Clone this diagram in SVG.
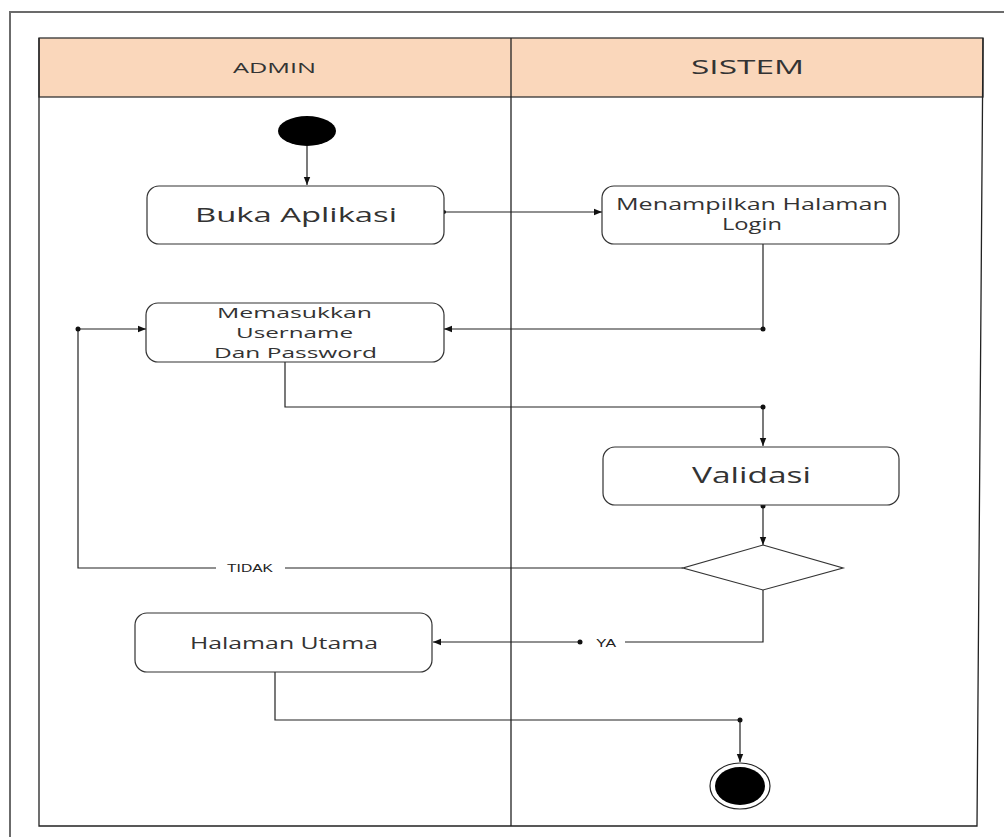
<svg xmlns="http://www.w3.org/2000/svg" width="1004" height="837" viewBox="0 0 1004 837">
  <style>
    .frame { fill: none; stroke: #6b6b6b; stroke-width: 2; }
    .lane { fill: none; stroke: #222; stroke-width: 1.3; }
    .head { fill: #fad7bb; stroke: #333; stroke-width: 1.3; }
    .box { fill: #fff; stroke: #333; stroke-width: 1.2; }
    .flow { fill: none; stroke: #222; stroke-width: 1.2; }
    .dot { fill: #111; }
    .lbl { font-family: "Open Sans", "DejaVu Sans", sans-serif; fill: #333; text-anchor: start; }
    .guard { font-family: "Liberation Sans", Arial, sans-serif; fill: #222; font-size: 10px; }
  </style>
  <defs>
    <marker id="arr" viewBox="0 0 10 10" refX="10" refY="5" markerWidth="8" markerHeight="8" markerUnits="userSpaceOnUse" orient="auto">
      <path d="M0,1 L10,5 L0,9 z" fill="#111"/>
    </marker>
  </defs>

  <!-- page frame -->
  <path class="frame" d="M10,837 V12 H1004"/>

  <!-- swimlanes -->
  <g id="lanes">
    <rect class="head" x="39" y="38" width="944" height="59"/>
    <path class="lane" d="M39,38 V826 H977 L983,38"/>
    <line class="lane" x1="511" y1="38" x2="511" y2="826"/>
    <text class="lbl" x="233" y="73" font-size="15" textLength="83" lengthAdjust="spacingAndGlyphs" fill="#111">ADMIN</text>
    <text class="lbl" x="691" y="74" font-size="20" textLength="113" lengthAdjust="spacingAndGlyphs" fill="#111">SISTEM</text>
  </g>

  <!-- connectors -->
  <g id="connectors">
    <line class="flow" x1="307" y1="146" x2="307" y2="185" marker-end="url(#arr)"/>
    <line class="flow" x1="444" y1="212" x2="602" y2="212" marker-end="url(#arr)"/>
    <circle class="dot" cx="444" cy="212" r="2"/>
    <path class="flow" d="M763,244 V329 H444" marker-end="url(#arr)"/>
    <circle class="dot" cx="763" cy="329" r="2.5"/>
    <path class="flow" d="M285,362 V407 H763 V446" marker-end="url(#arr)"/>
    <circle class="dot" cx="763" cy="407" r="2.5"/>
    <line class="flow" x1="763" y1="506" x2="763" y2="545" marker-end="url(#arr)"/>
    <circle class="dot" cx="763" cy="506" r="2.5"/>
    <line class="flow" x1="683" y1="568" x2="285" y2="568"/>
    <path class="flow" d="M216,568 H78 V329 H146" marker-end="url(#arr)"/>
    <circle class="dot" cx="78" cy="329" r="2.5"/>
    <text class="guard" x="227" y="572" textLength="46" lengthAdjust="spacingAndGlyphs">TIDAK</text>
    <path class="flow" d="M763,590 V642 H625"/>
    <text class="guard" x="596" y="647" textLength="20" lengthAdjust="spacingAndGlyphs">YA</text>
    <line class="flow" x1="580" y1="642" x2="433" y2="642" marker-end="url(#arr)"/>
    <circle class="dot" cx="580" cy="642" r="2.5"/>
    <path class="flow" d="M275,672 V720 H740 V762" marker-end="url(#arr)"/>
    <circle class="dot" cx="740" cy="720" r="2.5"/>
  </g>

  <!-- start -->
  <g id="start">
    <ellipse cx="307" cy="131" rx="29" ry="15" fill="#000"/>
  </g>

  <g id="buka-aplikasi">
    <rect class="box" x="147" y="186" width="297" height="58" rx="12"/>
    <text class="lbl" x="195" y="222" font-size="20" textLength="202" lengthAdjust="spacingAndGlyphs">Buka Aplikasi</text>
  </g>

  <g id="menampilkan-login">
    <rect class="box" x="602" y="186" width="297" height="58" rx="12"/>
    <text class="lbl" x="616" y="210" font-size="15.5" textLength="272" lengthAdjust="spacingAndGlyphs">Menampilkan Halaman</text>
    <text class="lbl" x="722" y="230" font-size="15.5" textLength="60" lengthAdjust="spacingAndGlyphs">Login</text>
  </g>

  <g id="memasukkan">
    <rect class="box" x="146" y="303" width="298" height="59" rx="12"/>
    <text class="lbl" x="217" y="318" font-size="14.5" textLength="155" lengthAdjust="spacingAndGlyphs">Memasukkan</text>
    <text class="lbl" x="236" y="338" font-size="14.5" textLength="117" lengthAdjust="spacingAndGlyphs">Username</text>
    <text class="lbl" x="214" y="358" font-size="14.5" textLength="163" lengthAdjust="spacingAndGlyphs">Dan Password</text>
  </g>

  <g id="validasi">
    <rect class="box" x="603" y="447" width="296" height="58" rx="12"/>
    <text class="lbl" x="692" y="483" font-size="21" textLength="119" lengthAdjust="spacingAndGlyphs">Validasi</text>
  </g>

  <g id="decision">
    <polygon class="box" points="763,545 843,568 763,590 683,568"/>
  </g>

  <g id="halaman-utama">
    <rect class="box" x="135" y="613" width="297" height="59" rx="12"/>
    <text class="lbl" x="190" y="649" font-size="16" textLength="188" lengthAdjust="spacingAndGlyphs">Halaman Utama</text>
  </g>

  <g id="end">
    <ellipse cx="740" cy="786" rx="30" ry="23" fill="#fff" stroke="#222" stroke-width="1.2"/>
    <ellipse cx="740" cy="786" rx="25" ry="19" fill="#000"/>
  </g>
</svg>
